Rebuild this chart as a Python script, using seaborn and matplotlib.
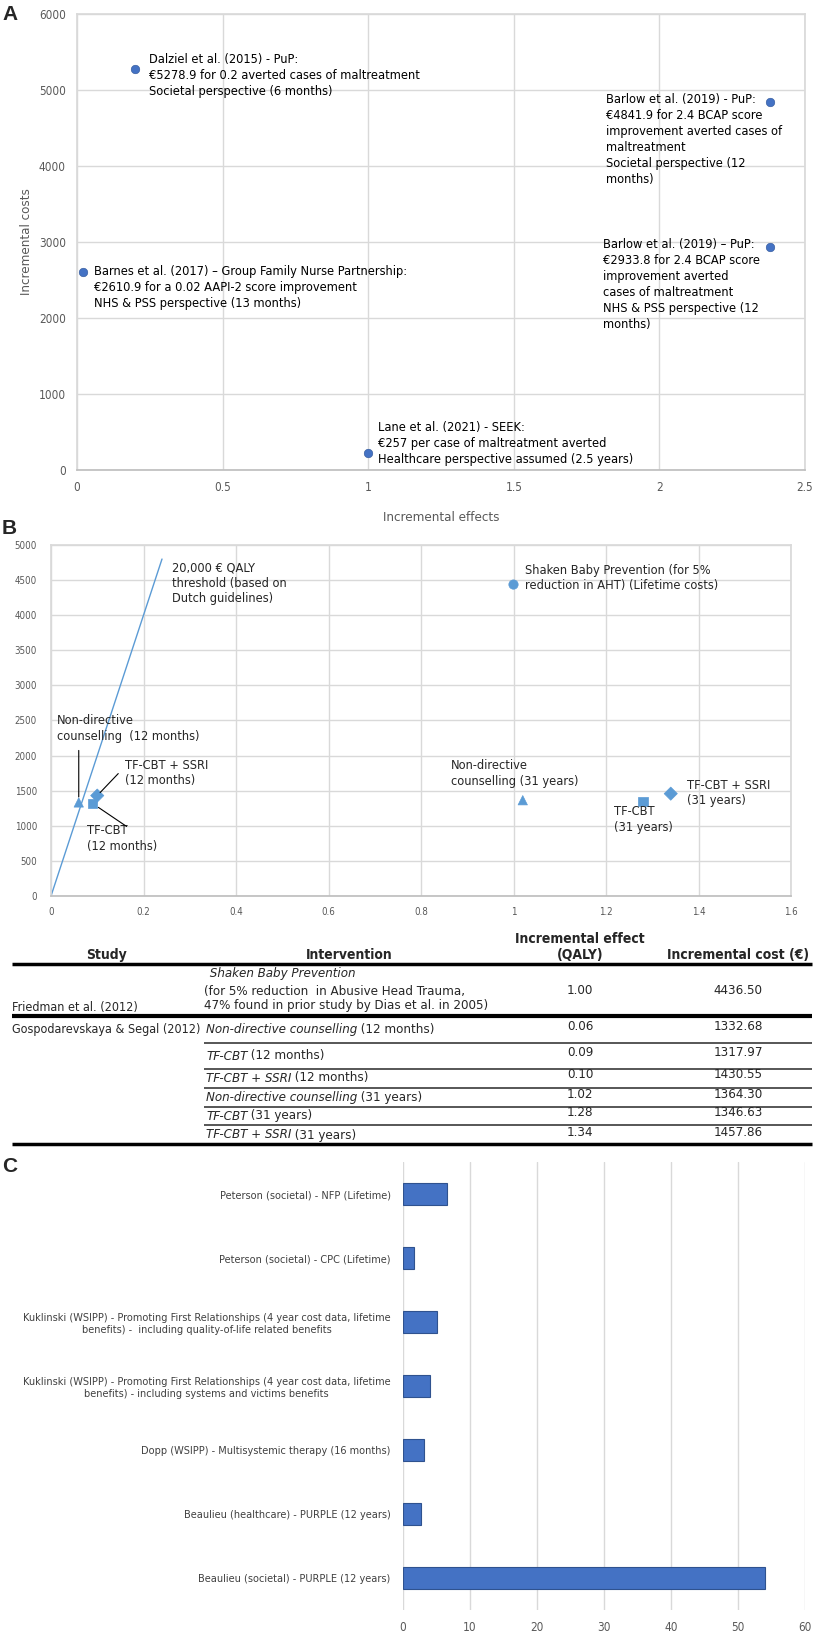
import numpy as np
import pandas as pd
import seaborn as sns
import matplotlib.pyplot as plt

# Panel A: cost-effectiveness plane (maltreatment outcomes)
a_effect = [0.2, 2.38, 0.02, 2.38, 1.0]
a_cost = [5278.9, 4841.9, 2610.9, 2933.8, 220]
a_labels = [
    "Dalziel et al. (2015) - PuP:\n€5278.9 for 0.2 averted cases of maltreatment\nSocietal perspective (6 months)",
    "Barlow et al. (2019) - PuP:\n€4841.9 for 2.4 BCAP score\nimprovement averted cases of\nmaltreatment\nSocietal perspective (12\nmonths)",
    "Barnes et al. (2017) – Group Family Nurse Partnership:\n€2610.9 for a 0.02 AAPI-2 score improvement\nNHS & PSS perspective (13 months)",
    "Barlow et al. (2019) – PuP:\n€2933.8 for 2.4 BCAP score\nimprovement averted\ncases of maltreatment\nNHS & PSS perspective (12\nmonths)",
    "Lane et al. (2021) - SEEK:\n€257 per case of maltreatment averted\nHealthcare perspective assumed (2.5 years)",
]
a_xticks = [0, 0.5, 1, 1.5, 2, 2.5]
a_xticklabels = ["0", "0.5", "1", "1.5", "2", "2.5"]
a_yticks = [0, 1000, 2000, 3000, 4000, 5000, 6000]

# Panel B / table: QALY studies
studies = ["Friedman et al. (2012)", "Gospodarevskaya & Segal (2012)", "", "", "", "", ""]
interv_italic = ["Shaken Baby Prevention", "Non-directive counselling", "TF-CBT", "TF-CBT + SSRI",
                 "Non-directive counselling", "TF-CBT", "TF-CBT + SSRI"]
interv_rest = ["(for 5% reduction  in Abusive Head Trauma,\n47% found in prior study by Dias et al. in 2005)",
               " (12 months)", " (12 months)", " (12 months)", " (31 years)", " (31 years)", " (31 years)"]
qaly = [1.00, 0.06, 0.09, 0.10, 1.02, 1.28, 1.34]
cost = [4436.50, 1332.68, 1317.97, 1430.55, 1364.30, 1346.63, 1457.86]
shape = ["circle", "triangle", "square", "diamond", "triangle", "square", "diamond"]
b_labels = [
    "Shaken Baby Prevention (for 5%\nreduction in AHT) (Lifetime costs)",
    "Non-directive\ncounselling  (12 months)",
    "TF-CBT\n(12 months)",
    "TF-CBT + SSRI\n(12 months)",
    "Non-directive\ncounselling (31 years)",
    "TF-CBT\n(31 years)",
    "TF-CBT + SSRI\n(31 years)",
]
threshold_x = [0, 0.24]
threshold_y = [0, 4800]
threshold_label = "20,000 € QALY\nthreshold (based on\nDutch guidelines)"
b_xticks = [0, 0.2, 0.4, 0.6, 0.8, 1.0, 1.2, 1.4, 1.6]
b_xticklabels = ["0", "0.2", "0.4", "0.6", "0.8", "1", "1.2", "1.4", "1.6"]
b_yticks = list(range(0, 5001, 500))

# Panel C: benefit-cost ratios
c_labels = [
    "Peterson (societal) - NFP (Lifetime)",
    "Peterson (societal) - CPC (Lifetime)",
    "Kuklinski (WSIPP) - Promoting First Relationships (4 year cost data, lifetime\nbenefits) -  including quality-of-life related benefits",
    "Kuklinski (WSIPP) - Promoting First Relationships (4 year cost data, lifetime\nbenefits) - including systems and victims benefits",
    "Dopp (WSIPP) - Multisystemic therapy (16 months)",
    "Beaulieu (healthcare) - PURPLE (12 years)",
    "Beaulieu (societal) - PURPLE (12 years)",
]
c_values = [6.6, 1.6, 5.0, 4.0, 3.2, 2.7, 54.0]
c_xticks = [0, 10, 20, 30, 40, 50, 60]

sns.set_theme(style="white")
plt.rcParams["font.family"] = ["DejaVu Sans"]
plt.rcParams["font.stretch"] = "condensed"

W, H = 822, 1637
GRID = "#D9D9D9"
TICK = "#595959"


def px_box(l, t, r, b):
    return [l / W, 1 - b / H, (r - l) / W, (b - t) / H]


def style_plane(ax, size, xpad, ypad):
    ax.grid(True, color=GRID, lw=1)
    for s in ax.spines.values():
        s.set_color(GRID)
    ax.spines["bottom"].set_color("#BFBFBF")
    ax.tick_params(length=0, colors=TICK, labelsize=size)
    ax.tick_params(axis="x", pad=xpad)
    ax.tick_params(axis="y", pad=ypad)
    ax.set_xlabel("")
    ax.set_ylabel("")


fig = plt.figure(figsize=(W / 100, H / 100), dpi=100)

# ---------------- A
ax_a = fig.add_axes(px_box(77, 14, 805, 470))
sns.scatterplot(x=a_effect, y=a_cost, ax=ax_a, color="#4472C4", s=38,
                edgecolor="#2F5597", linewidth=0.4, zorder=3)
ax_a.set_xlim(0, 2.5)
ax_a.set_ylim(0, 6000)
ax_a.set_xticks(a_xticks, a_xticklabels)
ax_a.set_yticks(a_yticks)
style_plane(ax_a, 8.5, 8, 8)
ax_a.set_xlabel("Incremental effects", color=TICK, fontsize=9.5, labelpad=12)
ax_a.set_ylabel("Incremental costs", color=TICK, fontsize=9.5, labelpad=4)
a_offsets = [(14, 16), (-164, 9), (11, 7), (-167, 9), (10, 32)]
for x, y, lab, off in zip(a_effect, a_cost, a_labels, a_offsets):
    ax_a.annotate(lab, xy=(x, y), xytext=off, textcoords="offset pixels",
                  ha="left", va="top", fontsize=9.2, color="black", linespacing=1.3)

# ---------------- B
ax_b = fig.add_axes(px_box(51, 545, 791, 896))
ax_b.plot(threshold_x, threshold_y, color="#5B9BD5", lw=1, zorder=2)
sns.scatterplot(x=qaly, y=cost, style=shape, ax=ax_b, color="#5B9BD5",
                markers={"circle": "o", "triangle": "^", "square": "s", "diamond": "D"},
                s=45, edgecolor="#5B9BD5", linewidth=0.5, legend=False, zorder=3)
ax_b.set_xlim(0, 1.6)
ax_b.set_ylim(0, 5000)
ax_b.set_xticks(b_xticks, b_xticklabels)
ax_b.set_yticks(b_yticks)
style_plane(ax_b, 7, 8, 10)
ax_b.annotate(threshold_label, xy=(threshold_x[1], threshold_y[1]), xytext=(10, -2),
              textcoords="offset pixels", ha="left", va="top", fontsize=9.2, linespacing=1.25)
b_offsets = [(11, 21), (-22, 88), (-6, -21), (28, 37), (-72, 41), (-29, -4), (16, 15)]
for x, y, lab, off in zip(qaly, cost, b_labels, b_offsets):
    ax_b.annotate(lab, xy=(x, y), xytext=off, textcoords="offset pixels",
                  ha="left", va="top", fontsize=9.2, linespacing=1.25)
# leader lines for the crowded 12-month points
leaders = [(1, (0, 52), 4), (3, (21, 22), 3), (2, (34, -23), 5)]
for i, start, shrink in leaders:
    ax_b.annotate("", xy=(qaly[i], cost[i]), xytext=start, textcoords="offset pixels",
                  arrowprops=dict(arrowstyle="-", color="black", lw=0.8,
                                  shrinkA=0, shrinkB=shrink))

# ---------------- table
ax_t = fig.add_axes([0, 0, 1, 1])
ax_t.set_xlim(0, W)
ax_t.set_ylim(H, 0)
ax_t.axis("off")
hdr = dict(fontsize=10, weight="bold", ha="center", va="bottom")
ax_t.text(106, 962, "Study", **hdr)
ax_t.text(349, 962, "Intervention", **hdr)
ax_t.text(580, 962, "Incremental effect\n(QALY)", linespacing=1.15, **hdr)
ax_t.text(738, 962, "Incremental cost (€)", **hdr)

FS = 9.5
row_y = [990, 1030, 1056, 1078, 1097, 1116, 1135]
for i, (st, it, rest, q, c) in enumerate(zip(studies, interv_italic, interv_rest, qaly, cost)):
    y = row_y[i]
    if i == 0:
        ax_t.text(12, 1007, st, fontsize=9, ha="left", va="center")
        ax_t.text(206, 973, " " + it, fontsize=FS, style="italic", ha="left", va="center")
        ax_t.text(204, 998.5, rest, fontsize=FS, ha="left", va="center", linespacing=1.15)
    else:
        ax_t.text(12, y, st, fontsize=9, ha="left", va="center")
        t_it = ax_t.text(206, y, it, fontsize=FS, style="italic", ha="left", va="center")
        ax_t.annotate(rest, xy=(1, 0), xycoords=t_it, fontsize=FS, ha="left", va="bottom")
    vy = y if i == 0 else y - 3
    ax_t.text(580, vy, f"{q:.2f}", fontsize=FS, ha="center", va="center")
    ax_t.text(738, vy, f"{c:.2f}", fontsize=FS, ha="center", va="center")

ax_t.plot([12, 812], [964, 964], color="black", lw=2.5, solid_capstyle="butt")
ax_t.plot([12, 812], [1016, 1016], color="black", lw=3, solid_capstyle="butt")
for ly in [1043, 1069, 1088, 1107, 1125]:
    ax_t.plot([204, 812], [ly, ly], color="#3A3A3A", lw=1.2, solid_capstyle="butt")
ax_t.plot([12, 812], [1144, 1144], color="black", lw=2.5, solid_capstyle="butt")

# ---------------- C
ax_c = fig.add_axes(px_box(403, 1162, 805, 1610))
sns.barplot(x=c_values, y=c_labels, orient="h", ax=ax_c, color="#4472C4",
            edgecolor="#2F528F", linewidth=0.8, width=0.35, saturation=1, zorder=3)
ax_c.set_xlim(0, 60)
ax_c.set_xticks(c_xticks)
ax_c.grid(True, axis="x", color=GRID, lw=1)
for s in ax_c.spines.values():
    s.set_visible(False)
ax_c.tick_params(length=0, colors=TICK, labelsize=8.5)
ax_c.tick_params(axis="x", pad=8)
ax_c.tick_params(axis="y", pad=9, labelsize=7.8, labelcolor="#404040")
for lab in ax_c.get_yticklabels():
    lab.set_multialignment("center")
ax_c.set_xlabel("")
ax_c.set_ylabel("")

# panel letters
for letter, y in [("A", 15), ("B", 529), ("C", 1167)]:
    fig.text(2 / W, 1 - y / H, letter, fontsize=15, weight="bold", stretch="normal",
             family=["Liberation Sans", "DejaVu Sans"], ha="left", va="center")

fig.savefig("out.png", dpi=100)
